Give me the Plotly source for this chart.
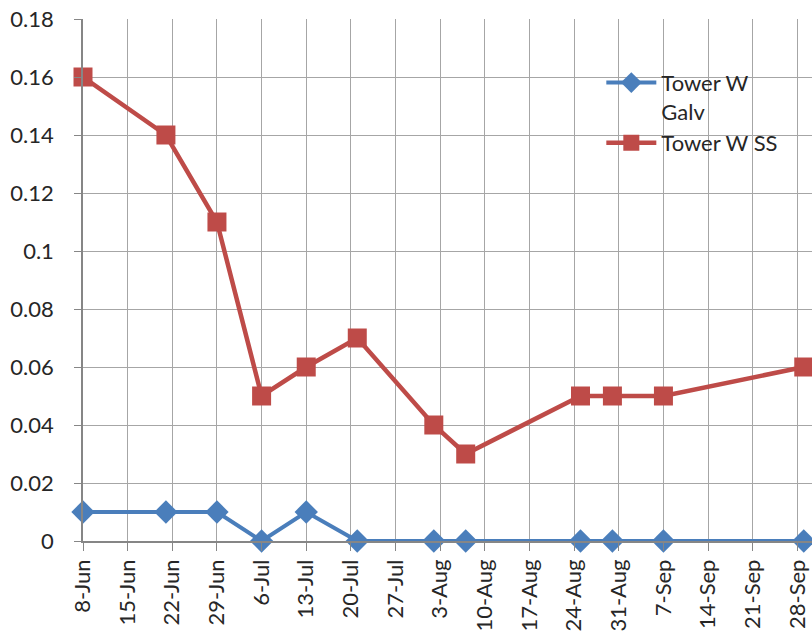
import plotly.graph_objects as go

galv_dates = ["2012-06-08", "2012-06-21", "2012-06-29", "2012-07-06", "2012-07-13",
              "2012-07-21", "2012-08-02", "2012-08-07", "2012-08-25", "2012-08-30",
              "2012-09-07", "2012-09-29"]
galv_values = [0.01, 0.01, 0.01, 0.0, 0.01, 0.0, 0.0, 0.0, 0.0, 0.0, 0.0, 0.0]

ss_dates = galv_dates
ss_values = [0.16, 0.14, 0.11, 0.05, 0.06, 0.07, 0.04, 0.03, 0.05, 0.05, 0.05, 0.06]

x_tick_dates = ["2012-06-08", "2012-06-15", "2012-06-22", "2012-06-29", "2012-07-06",
                "2012-07-13", "2012-07-20", "2012-07-27", "2012-08-03", "2012-08-10",
                "2012-08-17", "2012-08-24", "2012-08-31", "2012-09-07", "2012-09-14",
                "2012-09-21", "2012-09-28"]
x_tick_labels = ["8-Jun", "15-Jun", "22-Jun", "29-Jun", "6-Jul", "13-Jul", "20-Jul",
                 "27-Jul", "3-Aug", "10-Aug", "17-Aug", "24-Aug", "31-Aug", "7-Sep",
                 "14-Sep", "21-Sep", "28-Sep"]
y_tick_values = [0, 0.02, 0.04, 0.06, 0.08, 0.1, 0.12, 0.14, 0.16, 0.18]
y_tick_labels = ["0", "0.02", "0.04", "0.06", "0.08", "0.1", "0.12", "0.14", "0.16", "0.18"]

BLUE = "#4A7EBB"
RED = "#BE4B48"
FONT = "Lato"
TXT = "#262626"

fig = go.Figure()
fig.add_trace(go.Scatter(
    x=galv_dates, y=galv_values, name="Tower W<br>Galv", mode="lines+markers",
    line=dict(color=BLUE, width=4), marker=dict(symbol="diamond", size=18, color=BLUE),
    cliponaxis=False,
))
fig.add_trace(go.Scatter(
    x=ss_dates, y=ss_values, name="Tower W SS", mode="lines+markers",
    line=dict(color=RED, width=4.5), marker=dict(symbol="square", size=19, color=RED),
    cliponaxis=False,
))

fig.update_layout(
    width=812, height=636,
    margin=dict(l=83, r=0, t=19, b=95, autoexpand=False),
    plot_bgcolor="white", paper_bgcolor="white",
    font=dict(family=FONT, size=22, color=TXT),
    legend=dict(x=0.711, y=0.918, xanchor="left", yanchor="top",
                bgcolor="rgba(0,0,0,0)", valign="top", itemwidth=50,
                font=dict(family=FONT, size=22, color=TXT)),
)
fig.update_xaxes(
    type="date", range=["2012-06-08", "2012-09-30 07:00"],
    tickmode="array", tickvals=x_tick_dates, ticktext=x_tick_labels,
    tickangle=-90, ticks="outside", ticklen=8, tickcolor="#868686",
    showgrid=True, gridcolor="#A6A6A6", gridwidth=1,
    showline=True, linecolor="#868686", linewidth=1.5,
    zeroline=False, automargin=False,
    tickfont=dict(family=FONT, size=22, color=TXT),
)
fig.update_yaxes(
    range=[0, 0.18], tickmode="array", tickvals=y_tick_values, ticktext=y_tick_labels,
    ticks="outside", ticklen=7, tickcolor="#868686",
    showgrid=True, gridcolor="#A6A6A6", gridwidth=1,
    showline=True, linecolor="#868686", linewidth=1.5,
    zeroline=False, ticklabelstandoff=16, automargin=False,
    tickfont=dict(family=FONT, size=22, color=TXT),
)

fig.write_html(
    "out.html",
    config={"displayModeBar": False},
    post_script="document.body.style.margin='0';document.body.style.overflow='hidden';",
)
